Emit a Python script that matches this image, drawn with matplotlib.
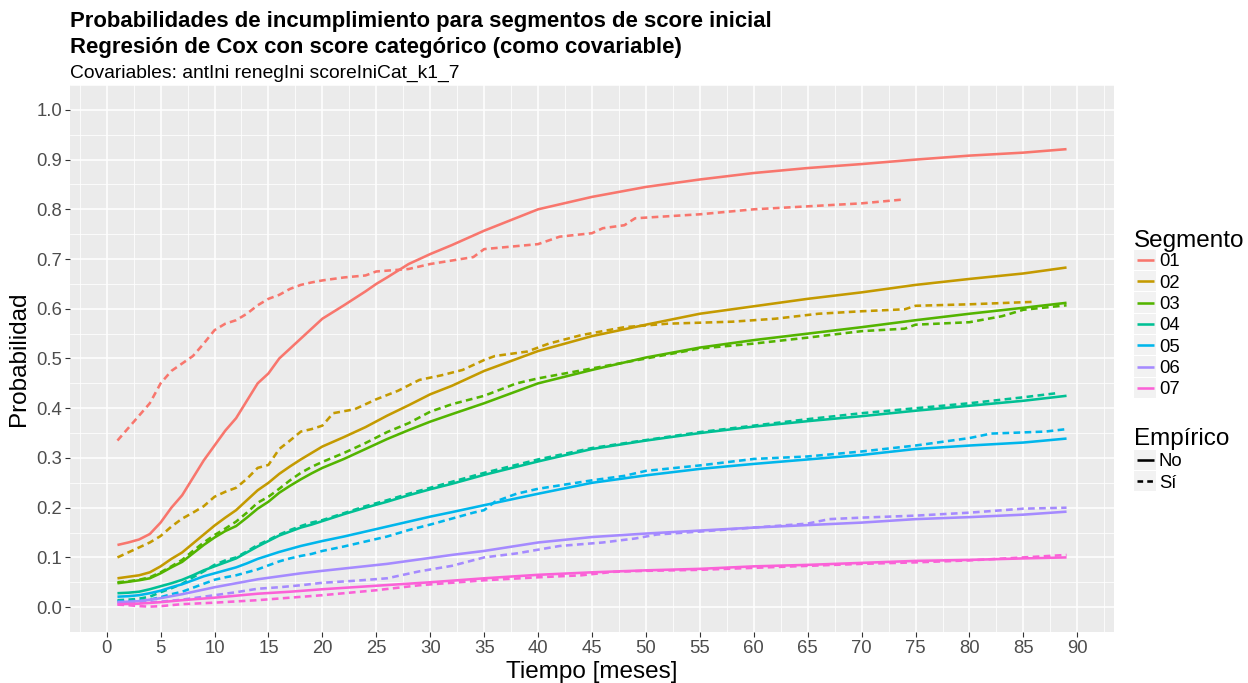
import matplotlib
matplotlib.use("Agg")
import matplotlib.pyplot as plt
from matplotlib.lines import Line2D
from matplotlib.patches import Rectangle
from matplotlib.ticker import MultipleLocator, FormatStrFormatter

plt.rcParams['font.family'] = ['Liberation Sans', 'DejaVu Sans']

# ---------------- data ----------------
segments = ["01", "02", "03", "04", "05", "06", "07"]
colors = ["#F8766D", "#C49A00", "#53B400", "#00C094", "#00B6EB", "#A58AFF", "#FB61D7"]
empirico_labels = ["No", "Sí"]

grid38 = [1, 2, 3, 4, 5, 6, 7, 8, 9, 10, 11, 12, 13, 14, 15, 16, 17, 18, 19, 20,
          22, 24, 26, 28, 30, 32, 35, 40, 45, 50, 55, 60, 65, 70, 75, 80, 85, 89]

s01_cox_x = [1, 2, 3, 4, 5, 6, 7, 8, 9, 10, 11, 12, 13, 14, 15, 16, 17, 18, 19, 20,
             22, 24, 25, 26, 28, 30, 32, 35, 40, 45, 50, 55, 60, 65, 70, 75, 80, 85, 89]
s01_cox_y = [0.125, 0.13, 0.136, 0.147, 0.17, 0.2, 0.225, 0.26, 0.295, 0.325, 0.355, 0.38, 0.415,
             0.45, 0.47, 0.5, 0.52, 0.54, 0.56, 0.58, 0.607, 0.635, 0.65, 0.663, 0.69, 0.71,
             0.728, 0.757, 0.8, 0.825, 0.845, 0.86, 0.873, 0.883, 0.891, 0.9, 0.908, 0.914, 0.921]
s01_emp_x = [1, 2, 3, 4, 5, 6, 7, 8, 9, 10, 11, 12, 13, 14, 15, 16, 17, 18, 19, 20,
             22, 24, 25, 28, 30, 34, 35, 40, 42, 45, 46, 48, 49, 55, 60, 65, 70, 74]
s01_emp_y = [0.335, 0.36, 0.385, 0.41, 0.45, 0.475, 0.49, 0.505, 0.53, 0.557, 0.57, 0.577, 0.59,
             0.607, 0.62, 0.628, 0.64, 0.648, 0.653, 0.657, 0.663, 0.667, 0.675, 0.68, 0.69,
             0.704, 0.72, 0.73, 0.745, 0.752, 0.762, 0.768, 0.782, 0.79, 0.8, 0.806, 0.812, 0.82]

s02_cox_x = grid38
s02_cox_y = [0.058, 0.061, 0.064, 0.07, 0.082, 0.097, 0.11, 0.128, 0.146, 0.164, 0.18, 0.195,
             0.215, 0.235, 0.25, 0.268, 0.283, 0.297, 0.31, 0.323, 0.342, 0.362, 0.385, 0.406,
             0.428, 0.445, 0.475, 0.515, 0.545, 0.568, 0.59, 0.605, 0.62, 0.633, 0.648, 0.66,
             0.671, 0.683]
s02_emp_x = [1, 2, 3, 4, 5, 6, 7, 8, 9, 10, 11, 12, 13, 14, 15, 16, 17, 18, 19, 20,
             21, 23, 25, 27, 29, 31, 33, 35, 36, 39, 41, 44, 48, 52, 58, 62, 66, 70, 74, 75, 80, 86]
s02_emp_y = [0.1, 0.11, 0.12, 0.13, 0.143, 0.162, 0.178, 0.19, 0.203, 0.222, 0.232, 0.24, 0.258,
             0.28, 0.286, 0.318, 0.335, 0.353, 0.358, 0.365, 0.39, 0.398, 0.418, 0.435, 0.457,
             0.466, 0.477, 0.497, 0.505, 0.514, 0.53, 0.547, 0.563, 0.57, 0.574, 0.58, 0.59,
             0.595, 0.599, 0.606, 0.609, 0.614]

s03_cox_x = grid38
s03_cox_y = [0.048, 0.051, 0.054, 0.058, 0.068, 0.08, 0.091, 0.108, 0.125, 0.14, 0.153, 0.163,
             0.18, 0.198, 0.212, 0.23, 0.244, 0.257, 0.269, 0.28, 0.298, 0.318, 0.338, 0.356,
             0.373, 0.388, 0.41, 0.45, 0.477, 0.502, 0.522, 0.537, 0.55, 0.563, 0.577, 0.59,
             0.602, 0.612]
s03_emp_x = [1, 2, 3, 4, 5, 6, 7, 8, 9, 10, 11, 12, 13, 14, 15, 16, 17, 18, 19, 20,
             22, 24, 26, 28, 30, 32, 35, 38, 40, 45, 50, 55, 60, 65, 70, 74, 75, 80, 83, 85, 89]
s03_emp_y = [0.05, 0.052, 0.055, 0.06, 0.07, 0.082, 0.095, 0.113, 0.13, 0.145, 0.158, 0.172,
             0.19, 0.21, 0.222, 0.238, 0.255, 0.27, 0.282, 0.292, 0.31, 0.33, 0.352, 0.37,
             0.393, 0.408, 0.425, 0.45, 0.46, 0.48, 0.5, 0.52, 0.53, 0.542, 0.555, 0.56,
             0.568, 0.573, 0.585, 0.598, 0.607]

s04_cox_x = grid38
s04_cox_y = [0.028, 0.029, 0.031, 0.036, 0.042, 0.048, 0.055, 0.064, 0.074, 0.082, 0.09, 0.098,
             0.11, 0.122, 0.133, 0.144, 0.152, 0.16, 0.166, 0.173, 0.187, 0.2, 0.212, 0.225,
             0.237, 0.248, 0.266, 0.293, 0.318, 0.335, 0.35, 0.363, 0.374, 0.384, 0.395, 0.405,
             0.415, 0.425]
s04_emp_x = [1, 2, 3, 4, 5, 6, 7, 8, 9, 10, 11, 12, 13, 14, 15, 16, 17, 18, 19, 20,
             22, 24, 26, 28, 30, 32, 35, 40, 45, 50, 55, 60, 65, 70, 75, 80, 85, 88]
s04_emp_y = [0.014, 0.015, 0.017, 0.021, 0.03, 0.038, 0.047, 0.06, 0.072, 0.085, 0.094, 0.1,
             0.112, 0.125, 0.135, 0.146, 0.155, 0.163, 0.17, 0.175, 0.189, 0.203, 0.215, 0.228,
             0.24, 0.252, 0.27, 0.297, 0.32, 0.336, 0.352, 0.365, 0.378, 0.39, 0.4, 0.41,
             0.422, 0.43]

s05_cox_x = grid38
s05_cox_y = [0.021, 0.022, 0.024, 0.028, 0.033, 0.04, 0.046, 0.054, 0.062, 0.068, 0.074, 0.08,
             0.088, 0.097, 0.104, 0.111, 0.117, 0.123, 0.128, 0.133, 0.142, 0.152, 0.162, 0.172,
             0.182, 0.191, 0.205, 0.228, 0.25, 0.265, 0.278, 0.288, 0.297, 0.306, 0.318, 0.325,
             0.331, 0.339]
s05_emp_x = [1, 2, 3, 4, 5, 6, 7, 8, 9, 10, 11, 12, 13, 14, 15, 16, 17, 18, 19, 20,
             22, 24, 26, 28, 30, 32, 34, 35, 36, 38, 40, 45, 48, 50, 55, 60, 65, 70, 75, 80,
             82, 87, 89]
s05_emp_y = [0.012, 0.012, 0.013, 0.015, 0.02, 0.026, 0.031, 0.039, 0.047, 0.055, 0.06, 0.064,
             0.07, 0.076, 0.084, 0.092, 0.098, 0.103, 0.107, 0.113, 0.122, 0.132, 0.142, 0.155,
             0.166, 0.178, 0.19, 0.195, 0.212, 0.228, 0.238, 0.255, 0.264, 0.274, 0.285, 0.298,
             0.303, 0.313, 0.325, 0.34, 0.349, 0.353, 0.358]

s06_cox_x = [1, 3, 5, 7, 10, 12, 14, 16, 18, 20, 23, 26, 29, 32, 35, 40, 45, 50, 55, 60, 65,
             70, 75, 80, 85, 89]
s06_cox_y = [0.01, 0.012, 0.018, 0.026, 0.04, 0.048, 0.056, 0.062, 0.068, 0.073, 0.08, 0.087,
             0.096, 0.105, 0.113, 0.13, 0.141, 0.148, 0.154, 0.16, 0.165, 0.17, 0.177, 0.181,
             0.186, 0.192]
s06_emp_x = [1, 3, 5, 7, 10, 12, 14, 16, 18, 20, 23, 26, 29, 32, 35, 38, 42, 46, 49, 51, 55,
             60, 65, 67, 70, 75, 80, 85, 89]
s06_emp_y = [0.01, 0.009, 0.011, 0.015, 0.024, 0.03, 0.037, 0.04, 0.044, 0.049, 0.053, 0.058,
             0.072, 0.083, 0.1, 0.108, 0.123, 0.13, 0.138, 0.146, 0.152, 0.16, 0.168, 0.177,
             0.18, 0.184, 0.19, 0.198, 0.2]

s07_cox_x = [1, 3, 5, 7, 10, 14, 17, 20, 25, 30, 35, 40, 45, 50, 55, 60, 65, 70, 75, 80, 85, 89]
s07_cox_y = [0.006, 0.007, 0.01, 0.014, 0.019, 0.027, 0.031, 0.036, 0.043, 0.05, 0.058, 0.065,
             0.07, 0.074, 0.077, 0.082, 0.085, 0.089, 0.093, 0.095, 0.098, 0.1]
s07_emp_x = [1, 2, 3, 4, 5, 7, 10, 14, 17, 20, 25, 29, 32, 35, 40, 44, 47, 50, 55, 60, 65, 70,
             75, 80, 85, 89]
s07_emp_y = [0.005, 0.004, 0.002, 0.001, 0.002, 0.006, 0.009, 0.014, 0.019, 0.024, 0.034, 0.044,
             0.049, 0.054, 0.06, 0.064, 0.071, 0.073, 0.075, 0.079, 0.083, 0.087, 0.09, 0.094,
             0.1, 0.105]

cox_series = [(s01_cox_x, s01_cox_y), (s02_cox_x, s02_cox_y), (s03_cox_x, s03_cox_y),
              (s04_cox_x, s04_cox_y), (s05_cox_x, s05_cox_y), (s06_cox_x, s06_cox_y),
              (s07_cox_x, s07_cox_y)]
emp_series = [(s01_emp_x, s01_emp_y), (s02_emp_x, s02_emp_y), (s03_emp_x, s03_emp_y),
              (s04_emp_x, s04_emp_y), (s05_emp_x, s05_emp_y), (s06_emp_x, s06_emp_y),
              (s07_emp_x, s07_emp_y)]

title_line1 = "Probabilidades de incumplimiento para segmentos de score inicial"
title_line2 = "Regresión de Cox con score categórico (como covariable)"
subtitle_text = "Covariables: antIni renegIni scoreIniCat_k1_7"

# ---------------- figure ----------------
W, H = 1248, 683
fig = plt.figure(figsize=(W / 100, H / 100), dpi=100)
fig.patch.set_facecolor("white")

def fx(px):
    return px / W

def fy(py):
    return 1 - py / H

ax = fig.add_axes([fx(70), fy(632), fx(1114) - fx(70), fy(85) - fy(632)])
ax.set_facecolor("#EBEBEB")
for s in ax.spines.values():
    s.set_visible(False)

ax.set_xlim(-3.4, 93.4)
ax.set_ylim(-0.05, 1.05)
ax.xaxis.set_major_locator(MultipleLocator(5))
ax.xaxis.set_minor_locator(MultipleLocator(2.5))
ax.yaxis.set_major_locator(MultipleLocator(0.1))
ax.yaxis.set_minor_locator(MultipleLocator(0.05))
ax.yaxis.set_major_formatter(FormatStrFormatter("%.1f"))
ax.grid(which="major", color="white", linewidth=1.1)
ax.grid(which="minor", color="white", linewidth=0.55)
ax.set_axisbelow(True)
ax.tick_params(which="major", length=3.5, width=0.8, color="#333333",
               labelsize=13.3, labelcolor="#4D4D4D", pad=2)
ax.tick_params(which="minor", length=0)

lw = 1.85
for (cx, cy), (ex, ey), col in zip(cox_series, emp_series, colors):
    ax.plot(cx, cy, color=col, linewidth=lw, solid_capstyle="butt", solid_joinstyle="round")
    ax.plot(ex, ey, color=col, linewidth=lw, linestyle=(0, (2.6, 1.7)), dash_capstyle="butt")

ax.set_xlabel("Tiempo [meses]", fontsize=17.5, color="black", labelpad=3)
ax.set_ylabel("Probabilidad", fontsize=17.5, color="black", labelpad=5)

# titles
fig.text(fx(70), fy(27.5), title_line1, fontsize=15.9, fontweight="bold",
         ha="left", va="baseline")
fig.text(fx(70), fy(52.8), title_line2, fontsize=15.9, fontweight="bold",
         ha="left", va="baseline")
fig.text(fx(70), fy(77.7), subtitle_text, fontsize=13.9, ha="left", va="baseline")

# legends (manual)
key_x0, key_x1 = 1134, 1156
row_h = 21.3

def legend_block(title, title_base, first_center, labels, styles, cols):
    fig.text(fx(1134), fy(title_base), title, fontsize=17.5, ha="left", va="baseline")
    for i, (lab, st, c) in enumerate(zip(labels, styles, cols)):
        yc = first_center + i * row_h
        fig.add_artist(Rectangle((fx(key_x0), fy(yc + row_h / 2 - 0.5)),
                                 fx(key_x1) - fx(key_x0), (row_h - 1) / H,
                                 transform=fig.transFigure, facecolor="#F2F2F2",
                                 edgecolor="none"))
        fig.add_artist(Line2D([fx(key_x0 + 2.5), fx(key_x1 - 2.5)], [fy(yc), fy(yc)],
                              transform=fig.transFigure, color=c, linewidth=lw,
                              linestyle=st, solid_capstyle="butt", dash_capstyle="butt"))
        fig.text(fx(1159), fy(yc), lab, fontsize=13.3, ha="left", va="center_baseline")

legend_block("Segmento", 247, 260, segments, ["-"] * 7, colors)
legend_block("Empírico", 445, 460, empirico_labels, ["-", (0, (2.2, 1.6))], ["black", "black"])

fig.savefig("out.png", dpi=100, facecolor="white")
